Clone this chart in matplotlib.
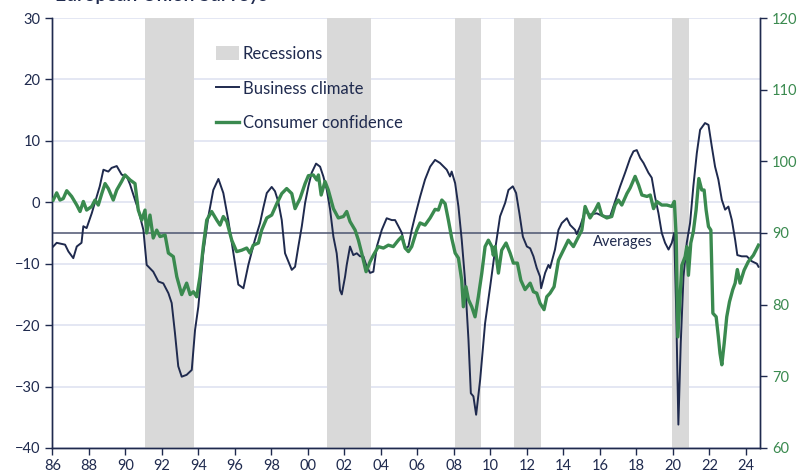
import numpy as np
import matplotlib
matplotlib.use("Agg")
import matplotlib.pyplot as plt
from matplotlib.patches import Patch
from matplotlib.lines import Line2D

plt.rcParams['font.family'] = ['Lato', 'DejaVu Sans']

NAVY = "#1f2a4e"
GREEN = "#3a8a4f"
GREY = "#d9d9d9"
GRID = "#dfe3f1"

# business climate (left axis)
biz_x = [1986.05, 1986.24, 1986.7, 1986.88, 1987.15, 1987.34, 1987.6, 1987.7, 1987.88, 1988.16,
         1988.43, 1988.6, 1988.8, 1989.07, 1989.25, 1989.53, 1989.8, 1990.08, 1990.26, 1990.53,
         1990.71, 1990.99, 1991.17, 1991.53, 1991.81, 1992.08, 1992.36, 1992.54, 1992.72, 1992.9,
         1993.09, 1993.36, 1993.64, 1993.82, 1994.0, 1994.27, 1994.55, 1994.82, 1995.1, 1995.37,
         1995.64, 1995.92, 1996.19, 1996.47, 1996.74, 1997.1, 1997.38, 1997.56, 1997.75, 1998.02,
         1998.2, 1998.38, 1998.57, 1998.75, 1998.93, 1999.12, 1999.3, 1999.48, 1999.67, 1999.85,
         2000.03, 2000.21, 2000.45, 2000.67, 2000.85, 2001.04, 2001.22, 2001.4, 2001.58, 2001.67,
         2001.76, 2001.86, 2002.04, 2002.13, 2002.31, 2002.49, 2002.68, 2002.86, 2003.04, 2003.23,
         2003.41, 2003.59, 2003.78, 2004.05, 2004.32, 2004.6, 2004.78, 2004.96, 2005.15, 2005.33,
         2005.51, 2005.69, 2005.87, 2006.15, 2006.42, 2006.7, 2006.97, 2007.24, 2007.61, 2007.79,
         2007.88, 2008.07, 2008.25, 2008.43, 2008.61, 2008.8, 2008.93, 2009.07, 2009.22, 2009.44,
         2009.71, 2009.99, 2010.26, 2010.53, 2010.81, 2010.99, 2011.23, 2011.41, 2011.59, 2011.78,
         2012.0, 2012.18, 2012.36, 2012.54, 2012.72, 2012.78, 2013.0, 2013.18, 2013.27, 2013.54,
         2013.73, 2013.91, 2014.19, 2014.37, 2014.64, 2014.73, 2014.92, 2015.19, 2015.46, 2015.83,
         2016.19, 2016.56, 2016.83, 2017.11, 2017.38, 2017.66, 2017.84, 2018.02, 2018.21, 2018.39,
         2018.66, 2018.84, 2019.02, 2019.21, 2019.39, 2019.57, 2019.76, 2019.94, 2020.07, 2020.18,
         2020.3, 2020.43, 2020.58, 2020.76, 2020.94, 2021.12, 2021.31, 2021.49, 2021.76, 2021.95,
         2022.13, 2022.31, 2022.49, 2022.68, 2022.86, 2023.04, 2023.23, 2023.41, 2023.53, 2023.77,
         2024.05, 2024.32, 2024.6, 2024.69]
biz_y = [-7.2, -6.6, -6.9, -8.0, -9.1, -7.2, -6.6, -3.9, -4.2, -1.8,
         0.9, 2.6, 5.3, 5.0, 5.6, 5.9, 4.5, 4.2, 2.9, 0.4,
         -1.2, -4.5, -10.2, -11.3, -12.9, -13.2, -14.8, -16.4, -21.3, -26.7,
         -28.4, -28.1, -27.3, -20.8, -17.0, -8.3, -2.3, 2.0, 3.8, 1.5,
         -2.9, -8.3, -13.4, -14.0, -10.2, -6.1, -3.4, -0.9, 1.5, 2.5,
         1.8, 0.1, -2.9, -8.3, -9.6, -11.0, -10.5, -7.2, -3.9, -0.1,
         2.6, 4.8, 6.3, 5.8, 4.2, 2.0, -1.2, -5.6, -8.3, -11.0,
         -14.3, -15.0, -12.1, -10.2, -7.2, -8.6, -8.3, -8.8, -8.8, -10.5,
         -11.5, -11.3, -7.2, -4.5, -2.6, -2.9, -2.9, -3.9, -5.0, -7.5,
         -7.2, -4.5, -2.3, 0.9, 3.7, 5.8, 6.9, 6.4, 5.3, 4.2,
         5.0, 3.1, -0.7, -6.1, -12.6, -22.4, -31.1, -31.6, -34.6, -28.9,
         -19.7, -13.7, -7.7, -2.3, -0.1, 2.0, 2.6, 1.5, -1.8, -5.6,
         -7.2, -7.5, -8.8, -10.7, -12.1, -14.0, -11.5, -10.2, -10.7, -7.7,
         -4.5, -3.4, -2.6, -3.7, -4.5, -5.2, -3.9, -1.5, -2.0, -1.8,
         -2.3, -2.3, 0.1, 2.6, 4.8, 7.2, 8.3, 8.5, 7.2, 6.4,
         4.8, 4.0, 0.9, -1.8, -5.0, -6.6, -7.7, -6.6, -5.0, -17.5,
         -36.2, -22.9, -12.1, -6.6, -3.4, 2.6, 8.0, 11.8, 12.9, 12.6,
         9.1, 5.8, 3.7, 0.4, -1.2, -0.7, -2.9, -6.1, -8.6, -8.8,
         -8.8, -9.6, -10.0, -10.5]

# consumer confidence (right axis)
cons_x = [1986.05, 1986.24, 1986.42, 1986.6, 1986.79, 1987.06, 1987.34, 1987.52, 1987.7, 1987.88,
          1988.16, 1988.34, 1988.52, 1988.71, 1988.89, 1989.07, 1989.34, 1989.53, 1989.8, 1989.98,
          1990.26, 1990.53, 1990.71, 1990.9, 1991.08, 1991.17, 1991.35, 1991.53, 1991.72, 1991.9,
          1992.18, 1992.36, 1992.63, 1992.82, 1993.09, 1993.36, 1993.55, 1993.73, 1993.91, 1994.09,
          1994.27, 1994.46, 1994.73, 1995.01, 1995.19, 1995.37, 1995.56, 1995.83, 1996.1, 1996.38,
          1996.65, 1996.83, 1997.01, 1997.29, 1997.47, 1997.75, 1998.02, 1998.3, 1998.57, 1998.84,
          1999.12, 1999.3, 1999.57, 1999.85, 2000.03, 2000.3, 2000.49, 2000.58, 2000.73, 2000.94,
          2001.12, 2001.4, 2001.67, 2001.95, 2002.13, 2002.31, 2002.59, 2002.77, 2002.95, 2003.19,
          2003.41, 2003.59, 2003.86, 2004.14, 2004.41, 2004.68, 2004.96, 2005.15, 2005.33, 2005.51,
          2005.69, 2005.97, 2006.15, 2006.42, 2006.7, 2006.97, 2007.15, 2007.34, 2007.52, 2007.7,
          2007.88, 2008.07, 2008.25, 2008.43, 2008.52, 2008.66, 2008.8, 2008.98, 2009.16, 2009.34,
          2009.53, 2009.71, 2009.89, 2010.08, 2010.16, 2010.26, 2010.44, 2010.62, 2010.86, 2011.08,
          2011.26, 2011.48, 2011.67, 2011.9, 2012.18, 2012.36, 2012.54, 2012.72, 2012.94, 2013.09,
          2013.27, 2013.49, 2013.73, 2014.0, 2014.27, 2014.55, 2014.73, 2015.01, 2015.19, 2015.46,
          2015.74, 2015.92, 2016.1, 2016.38, 2016.65, 2016.83, 2017.01, 2017.2, 2017.48, 2017.66,
          2017.93, 2018.12, 2018.3, 2018.58, 2018.76, 2018.94, 2019.12, 2019.39, 2019.67, 2019.94,
          2020.08, 2020.18, 2020.27, 2020.39, 2020.49, 2020.67, 2020.76, 2020.85, 2020.98, 2021.12,
          2021.27, 2021.42, 2021.58, 2021.71, 2021.82, 2021.95, 2022.08, 2022.19, 2022.37, 2022.49,
          2022.58, 2022.68, 2022.81, 2022.95, 2023.1, 2023.28, 2023.41, 2023.53, 2023.68, 2023.9,
          2024.13, 2024.41, 2024.69]
cons_y = [94.6, 95.6, 94.6, 94.8, 95.9, 95.1, 93.9, 93.0, 94.4, 93.2,
          93.7, 94.6, 93.9, 95.5, 96.9, 96.2, 94.6, 96.0, 97.2, 98.1,
          97.4, 96.9, 93.2, 91.8, 93.2, 90.0, 92.5, 89.3, 90.4, 89.5,
          89.7, 87.2, 86.7, 83.9, 81.4, 83.0, 81.4, 81.8, 81.1, 83.9,
          88.1, 91.8, 93.0, 91.8, 91.1, 92.3, 91.6, 89.0, 87.4, 87.6,
          87.9, 87.2, 88.3, 88.6, 90.4, 92.1, 92.5, 94.1, 95.5, 96.2,
          95.5, 93.4, 94.8, 96.9, 98.0, 98.1, 97.4, 98.1, 95.3, 97.2,
          96.0, 93.4, 92.1, 92.3, 93.0, 91.6, 90.4, 89.0, 87.2, 84.6,
          86.0, 86.9, 88.1, 87.9, 88.3, 88.1, 89.0, 89.5, 87.9, 87.4,
          88.1, 90.4, 91.4, 91.1, 92.1, 93.3, 93.2, 94.6, 94.1, 91.8,
          89.3, 87.2, 86.5, 83.4, 79.7, 82.5, 80.7, 79.7, 78.3, 81.1,
          84.4, 88.1, 89.0, 88.1, 86.9, 88.1, 84.4, 87.6, 88.6, 87.2,
          85.8, 85.8, 83.4, 82.1, 83.0, 81.8, 81.6, 80.2, 79.3, 81.1,
          81.6, 82.5, 86.2, 87.6, 89.0, 88.1, 89.0, 90.4, 93.7, 92.1,
          93.2, 94.1, 92.5, 92.1, 92.3, 93.9, 94.6, 93.9, 95.5, 96.3,
          97.9, 96.7, 95.3, 95.1, 95.3, 93.4, 94.4, 93.9, 93.9, 93.7,
          94.4, 89.5, 75.5, 81.1, 85.5, 86.7, 88.1, 84.1, 88.6, 90.2,
          93.2, 97.6, 96.0, 96.0, 93.2, 90.9, 90.4, 78.8, 78.3, 75.5,
          73.2, 71.6, 74.6, 78.3, 80.4, 82.1, 83.0, 84.9, 83.0, 84.8,
          86.0, 86.9, 88.3]

recession_start = [1991.1, 2001.05, 2008.07, 2011.3, 2019.97]
recession_end = [1993.78, 2003.45, 2009.5, 2012.76, 2020.9]

biz_average = -5.0
year_ticks = list(range(1986, 2025, 2))
year_labels = [f"{y % 100:02d}" for y in year_ticks]

fig = plt.figure(figsize=(8.01, 4.75), dpi=100)
ax = fig.add_axes([0.0653, 0.057, 0.8837, 0.905])
ax2 = ax.twinx()

for s, e in zip(recession_start, recession_end):
    ax.axvspan(s, e, color=GREY, lw=0, zorder=1)

ax.set_ylim(-40, 30)
ax.set_yticks(range(-40, 31, 10))
ax.yaxis.grid(True, color=GRID, lw=1.2, zorder=0)
ax.set_axisbelow(True)
ax.set_xlim(1986, 2024.78)
ax.set_xticks(year_ticks)
ax.set_xticklabels(year_labels)

ax.axhline(biz_average, color="#4b5470", lw=1.1, zorder=2)
ax.plot(biz_x, biz_y, color=NAVY, lw=1.4, zorder=3)
ax.text(2017.25, biz_average - 0.35, "Averages", ha="center", va="top",
        fontsize=10.5, color=NAVY, zorder=4)

ax2.plot(cons_x, cons_y, color=GREEN, lw=2.4, zorder=3)
ax2.set_ylim(60, 120)
ax2.set_yticks(range(60, 121, 10))

for a in (ax, ax2):
    a.spines["top"].set_visible(False)
    for sp in ("left", "right", "bottom"):
        a.spines[sp].set_color(NAVY)
        a.spines[sp].set_linewidth(1.0)
ax.tick_params(axis="both", colors=NAVY, labelsize=10.5, length=5, width=1, direction="out")
ax.tick_params(axis="x", pad=3)
ax2.tick_params(axis="y", colors=NAVY, labelcolor=GREEN, labelsize=10.5, length=5, width=1)

handles = [Patch(facecolor=GREY, edgecolor="none"),
           Line2D([], [], color=NAVY, lw=1.4),
           Line2D([], [], color=GREEN, lw=2.4)]
labels = ["Recessions", "Business climate", "Consumer confidence"]
leg = ax2.legend(handles, labels, loc="upper left", bbox_to_anchor=(216 / 801, 1 - 46 / 475),
                 bbox_transform=fig.transFigure, frameon=False, fontsize=12,
                 handlelength=1.35, handleheight=0.9, handletextpad=0.25,
                 labelspacing=1.12, borderpad=0, borderaxespad=0)
for t in leg.get_texts():
    t.set_color(NAVY)

fig.text(55 / 801, 1 - 1 / 475, "European Union Surveys", ha="left", va="baseline",
         fontsize=14, fontweight="semibold", color=NAVY)

fig.savefig("out.png", dpi=100)
